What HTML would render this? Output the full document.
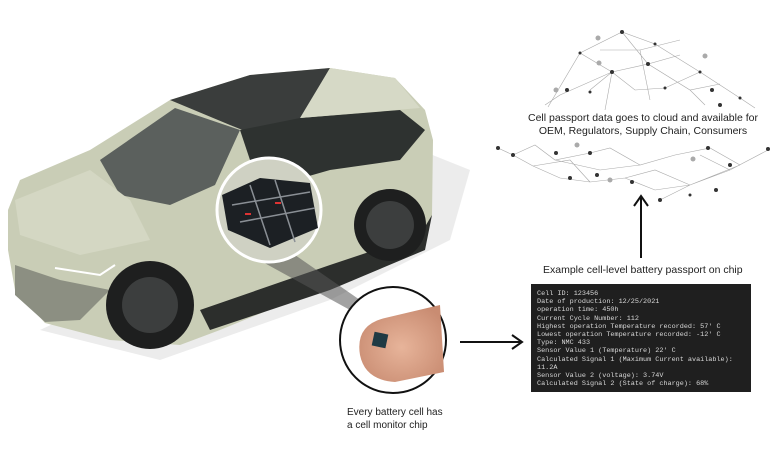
<!DOCTYPE html>
<html><head><style>
html,body{margin:0;padding:0;background:#fff;}
body{width:780px;height:470px;position:relative;overflow:hidden;font-family:"Liberation Sans",sans-serif;}
.t{position:absolute;color:#222;}
pre{margin:0;font-family:"Liberation Mono",monospace;font-size:6.8px;line-height:8.2px;color:#d8d8d8;}
</style></head><body>
<svg width="780" height="470" style="position:absolute;left:0;top:0">
<defs>
<radialGradient id="fg" cx="0.5" cy="0.55" r="0.6"><stop offset="0" stop-color="#e7b49a"/><stop offset="1" stop-color="#c98c72"/></radialGradient>
</defs>
<path d="M40 330 L160 360 L330 300 L450 240 L470 170 L420 150 Z" fill="#ececec"/>
<path d="M8 210 L20 180 L90 150 L170 100 L250 75 L330 68 L395 78 L425 110 L433 140 L432 215 L420 250 L330 285 L220 330 L180 345 L110 340 L45 323 L15 290 L8 250 Z" fill="#c9cdb6"/>
<path d="M170 100 L250 75 L330 68 L300 120 L255 135 L230 125 Z" fill="#3a3d3c"/>
<path d="M100 160 L175 108 L240 130 L215 185 L170 205 L120 195 Z" fill="#5b605d"/>
<path d="M240 130 L300 118 L400 110 L425 130 L400 160 L330 170 L260 190 Z" fill="#2e3230"/>
<path d="M300 118 L330 68 L395 78 L420 108 Z" fill="#d6d9c6"/>
<path d="M15 200 L90 170 L130 200 L150 240 L80 255 L20 235 Z" fill="#d4d7c3"/>
<path d="M15 265 L60 280 L110 290 L80 320 L45 322 L15 295 Z" fill="#8c8f82"/>
<path d="M200 310 L330 265 L420 235 L432 215 L425 250 L330 290 L210 330 Z" fill="#2c2e2c"/>
<circle cx="150" cy="305" r="44" fill="#1e1f1f"/><circle cx="150" cy="305" r="28" fill="#3c3e3e"/>
<circle cx="390" cy="225" r="36" fill="#1e1f1f"/><circle cx="390" cy="225" r="24" fill="#3c3e3e"/>
<path d="M55 268 L100 275 L115 265" stroke="#fff" stroke-width="2" fill="none"/>
<path d="M250 255 L295 255 L360 300 L350 310 Z" fill="#555" opacity="0.55"/>
<circle cx="269" cy="210" r="52" fill="#cfd1c3" stroke="#fff" stroke-width="3"/>
<path d="M222 195 L260 178 L310 183 L318 228 L270 248 L228 230 Z" fill="#1c2024"/>
<path d="M232 205 L310 192 M240 222 L315 208 M250 185 L270 245 M275 180 L295 242" stroke="#8a8f95" stroke-width="1.5"/>
<rect x="245" y="213" width="6" height="2" fill="#d33"/><rect x="275" y="202" width="6" height="2" fill="#d33"/>
<circle cx="393" cy="340" r="53" fill="#fff" stroke="#111" stroke-width="2"/>
<path d="M360 355 Q355 325 385 318 L440 305 L444 372 L395 382 Q365 380 360 355 Z" fill="url(#fg)"/>
<rect x="373" y="333" width="14" height="14" fill="#1f3a44" transform="rotate(12 380 340)"/>
<line x1="460" y1="342" x2="520" y2="342" stroke="#111" stroke-width="2"/>
<path d="M512 335 L522 342 L512 349" stroke="#111" stroke-width="2" fill="none"/>
<line x1="641" y1="258" x2="641" y2="198" stroke="#111" stroke-width="2"/>
<path d="M634 206 L641 196 L648 206" stroke="#111" stroke-width="2" fill="none"/>
<g stroke="#aaa" stroke-width="0.6" fill="none">
<path d="M548 107 L580 53 L622 32 L655 44 L700 72 L740 98 L755 108 M560 95 L612 72 L648 64 L690 90 L720 84 M580 53 L612 72 L635 90 L665 88 L700 72 M622 32 L648 64 L680 55 M590 90 L612 72 L605 110 M560 95 L545 105 M600 50 L640 50 L680 40 M640 50 L650 100 M690 90 L705 105"/>
<path d="M498 148 L513 155 L533 166 L560 178 L590 182 L625 178 L655 190 L690 185 L730 170 L768 150 M513 155 L535 145 L555 160 L590 153 L610 148 L640 165 L675 155 L710 148 L740 165 M533 166 L570 160 L590 182 M625 178 L655 170 L690 185 M700 155 L730 170 M555 160 L600 170 L640 165 M660 200 L690 185 L740 165"/>
</g>
<g fill="#333">
<circle cx="622" cy="32" r="2"/><circle cx="580" cy="53" r="1.5"/><circle cx="648" cy="64" r="2"/><circle cx="612" cy="72" r="2"/><circle cx="567" cy="90" r="2"/><circle cx="700" cy="72" r="1.5"/><circle cx="712" cy="90" r="2"/><circle cx="740" cy="98" r="1.5"/><circle cx="720" cy="105" r="2"/><circle cx="590" cy="92" r="1.5"/><circle cx="665" cy="88" r="1.5"/><circle cx="655" cy="44" r="1.5"/>
<circle cx="498" cy="148" r="2"/><circle cx="513" cy="155" r="2"/><circle cx="556" cy="153" r="2"/><circle cx="590" cy="153" r="2"/><circle cx="570" cy="178" r="2"/><circle cx="632" cy="182" r="2"/><circle cx="708" cy="148" r="2"/><circle cx="730" cy="165" r="2"/><circle cx="768" cy="149" r="2"/><circle cx="716" cy="190" r="2"/><circle cx="690" cy="195" r="1.5"/><circle cx="597" cy="175" r="2"/><circle cx="660" cy="200" r="2"/>
</g>
<g fill="#aaa"><circle cx="598" cy="38" r="2.5"/><circle cx="599" cy="63" r="2.5"/><circle cx="705" cy="56" r="2.5"/><circle cx="556" cy="90" r="2.5"/><circle cx="577" cy="145" r="2.5"/><circle cx="693" cy="159" r="2.5"/><circle cx="610" cy="180" r="2.5"/></g>
</svg>
<div class="t" style="left:518px;top:112px;width:250px;text-align:center;font-size:10.5px;line-height:13px;">Cell passport data goes to cloud and available for<br>OEM, Regulators, Supply Chain, Consumers</div>
<div class="t" style="left:543px;top:264px;font-size:10.5px;">Example cell-level battery passport on chip</div>
<div style="position:absolute;left:531px;top:284px;width:220px;height:108px;background:#1f1f1f;"></div>
<pre style="position:absolute;left:537px;top:290px;">Cell ID: 123456
Date of production: 12/25/2021
operation time: 450h
Current Cycle Number: 112
Highest operation Temperature recorded: 57' C
Lowest operation Temperature recorded: -12' C
Type: NMC 433
Sensor Value 1 (Temperature) 22' C
Calculated Signal 1 (Maximum Current available):
11.2A
Sensor Value 2 (voltage): 3.74V
Calculated Signal 2 (State of charge): 68%</pre>
<div class="t" style="left:347px;top:406px;font-size:10px;line-height:13px;">Every battery cell has<br>a cell monitor chip</div>
</body></html>
